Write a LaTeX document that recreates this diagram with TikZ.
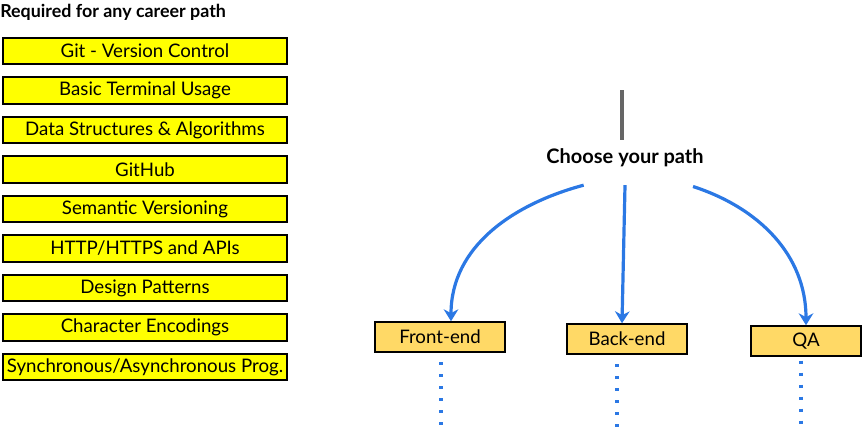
\documentclass[tikz,border=0pt]{standalone}
\usepackage{fontspec}
\setmainfont{Lato}
\usetikzlibrary{arrows.meta,positioning}
\definecolor{reqyellow}{HTML}{FFFF00}
\definecolor{pathgold}{HTML}{FFD966}
\definecolor{pathblue}{HTML}{2B78E4}

\begin{document}
\begin{tikzpicture}[x=0.75pt,y=-0.75pt,
    reqbox/.style={draw=black,line width=1.6pt,fill=reqyellow,minimum width=213pt,minimum height=20pt,inner sep=0pt,font=\fontsize{14}{16}\selectfont},
    pathbox/.style={draw=black,line width=1.6pt,fill=pathgold,minimum height=22pt,inner sep=0pt,font=\fontsize{14}{16}\selectfont},
    pathline/.style={pathblue,line width=2.4pt,-{Stealth[length=9pt,width=11pt]}},
    trail/.style={pathblue,line width=2.4pt,dash pattern=on 2.2pt off 6.8pt}]
    \useasboundingbox (0,0) rectangle (862,436);

    % Shared topics
    \node[anchor=west,inner sep=0pt,font=\bfseries\fontsize{13.4}{15}\selectfont] (reqtitle) at (0,12) {Required for any career path};
    \foreach \topic [count=\i] in {Git - Version Control,Basic Terminal Usage,Data Structures \& Algorithms,GitHub,Semantic Versioning,HTTP/HTTPS and APIs,Design Patterns,Character Encodings,Synchronous/Asynchronous Prog.}
        \node[reqbox] (req\i) at (145,{51+39.5*(\i-1)}) {\topic};

    % Choosing a path
    \coordinate (top) at (622,90);
    \node[font=\bfseries\fontsize{15}{17}\selectfont] (choose) at (625,158) {Choose your path};
    \draw[line width=2.4pt,black!60] (top) -- ([xshift=-2.25pt,yshift=3pt]choose.north);

    \node[pathbox,minimum width=97.5pt] (front) at (440,337) {Front-end};
    \node[pathbox,minimum width=90pt] (back) at (627,339) {Back-end};
    \node[pathbox,minimum width=82.5pt] (qa) at (806,341) {QA};

    \draw[pathline] ([xshift=-31pt,yshift=-10pt]choose.south) to[out=195,in=90] ([xshift=8.25pt]front.north);
    \draw[pathline] ([yshift=-10pt]choose.south) -- ([xshift=-3.75pt]back.north);
    \draw[pathline] ([xshift=51pt,yshift=-11pt]choose.south) to[out=-18,in=90] (qa.north);

    % Paths continue
    \coordinate (frontend) at (441,426);
    \coordinate (backend) at (617,428);
    \coordinate (qaend) at (801,426);
    \draw[trail] ([yshift=-7pt]front.south -| frontend) -- (frontend);
    \draw[trail] ([yshift=-7pt]back.south -| backend) -- (backend);
    \draw[trail] ([yshift=-3pt]qa.south -| qaend) -- (qaend);
\end{tikzpicture}
\end{document}
